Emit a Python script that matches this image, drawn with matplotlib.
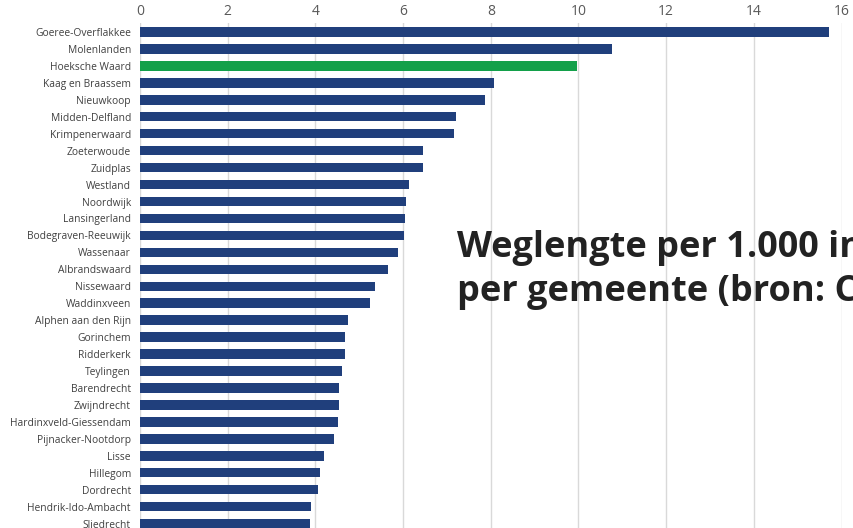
import matplotlib.pyplot as plt

gemeenten = [
    "Goeree-Overflakkee", "Molenlanden", "Hoeksche Waard", "Kaag en Braassem",
    "Nieuwkoop", "Midden-Delfland", "Krimpenerwaard", "Zoeterwoude", "Zuidplas",
    "Westland", "Noordwijk", "Lansingerland", "Bodegraven-Reeuwijk", "Wassenaar",
    "Albrandswaard", "Nissewaard", "Waddinxveen", "Alphen aan den Rijn",
    "Gorinchem", "Ridderkerk", "Teylingen", "Barendrecht", "Zwijndrecht",
    "Hardinxveld-Giessendam", "Pijnacker-Nootdorp", "Lisse", "Hillegom",
    "Dordrecht", "Hendrik-Ido-Ambacht", "Sliedrecht",
]
weglengte = [
    15.71, 10.76, 9.97, 8.08, 7.86, 7.21, 7.15, 6.46, 6.46, 6.13, 6.06, 6.04,
    6.03, 5.88, 5.65, 5.37, 5.25, 4.75, 4.67, 4.68, 4.61, 4.54, 4.54, 4.51,
    4.42, 4.19, 4.10, 4.05, 3.91, 3.88,
]
highlight = "Hoeksche Waard"
x_ticks = [0, 2, 4, 6, 8, 10, 12, 14, 16]

blauw = "#203f7c"
groen = "#13a04a"

fig = plt.figure(figsize=(8.54, 5.28), dpi=100)
ax = fig.add_axes([140 / 854, 0, (841.6 - 140) / 854, 1 - 23 / 528])

posities = list(range(len(gemeenten)))
kleuren = [groen if g == highlight else blauw for g in gemeenten]
ax.barh(posities, weglengte, height=0.56, color=kleuren, zorder=3)

ax.set_xlim(0, 16)
ax.set_ylim(29.26, -0.53)
ax.set_xticks(x_ticks)
ax.xaxis.tick_top()
ax.tick_params(axis="x", length=0, pad=3, labelsize=10, labelcolor="#595959")
ax.set_yticks(posities)
ax.set_yticklabels(gemeenten, fontfamily="Open Sans")
ax.tick_params(axis="y", length=0, pad=6.5, labelsize=7.4, labelcolor="#404040")
for lbl in ax.get_xticklabels():
    lbl.set_fontfamily("Open Sans")

ax.grid(axis="x", color="#d9d9d9", linewidth=1.0, zorder=0)
for s in ax.spines.values():
    s.set_visible(False)

# titel loopt in het origineel over de rechterrand heen
fig.text(457 / 854, 1 - 270 / 528,
         "Weglengte per 1.000 inwoners\nper gemeente (bron: CBS)",
         fontsize=26, fontweight="bold", fontfamily="Open Sans",
         color="#222222", ha="left", va="center", linespacing=1.3)

fig.savefig("out.png", dpi=100)
